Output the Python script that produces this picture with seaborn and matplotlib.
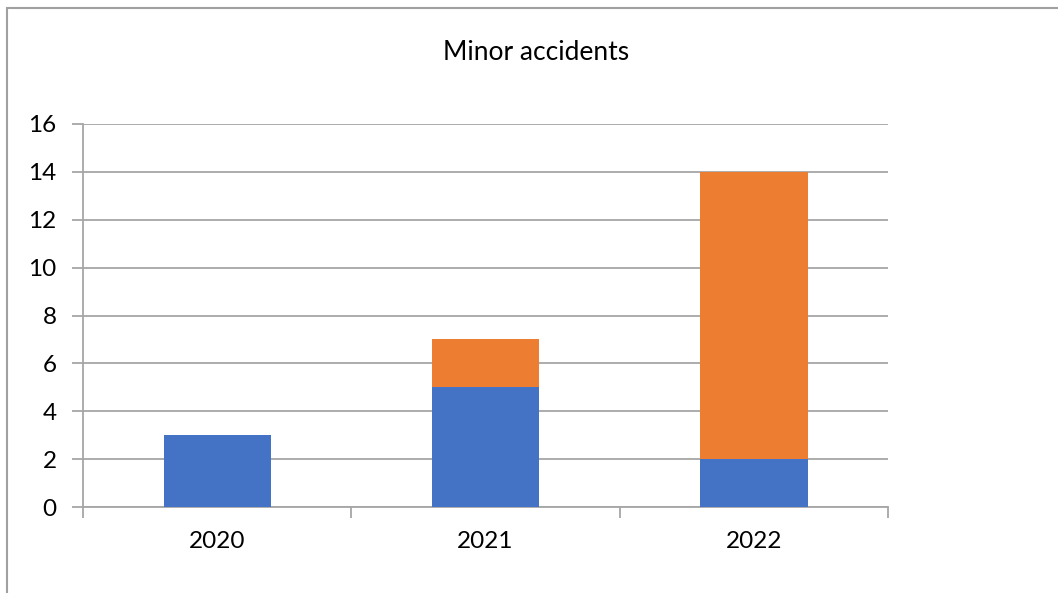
import matplotlib
matplotlib.use("Agg")
import matplotlib.pyplot as plt
import seaborn as sns
import pandas as pd
from matplotlib.patches import Rectangle

years = ["2020", "2021", "2022"]
blue_vals = [3, 5, 2]
orange_vals = [0, 2, 12]
y_ticks = [0, 2, 4, 6, 8, 10, 12, 14, 16]

blue = "#4472C4"
orange = "#ED7D31"
grid_col = "#a6a6a6"

sns.set_theme(style="white")
plt.rcParams['font.family'] = ['Lato', 'DejaVu Sans']

df = pd.DataFrame({'year': years, 'blue': blue_vals, 'orange': orange_vals})
df['total'] = df['blue'] + df['orange']

fig = plt.figure(figsize=(10.58, 5.93), dpi=100)
ax = fig.add_axes([83/1058, 1-507/593, (888-83)/1058, (507-124)/593])

# stacked: draw totals in orange, then blue part on top of it
sns.barplot(data=df, x='year', y='total', color=orange, width=0.4, ax=ax,
            saturation=1, linewidth=0, zorder=3)
sns.barplot(data=df, x='year', y='blue', color=blue, width=0.4, ax=ax,
            saturation=1, linewidth=0, zorder=4)

ax.set_ylim(0, 16)
ax.set_xlim(-0.5, 2.5)
ax.set_yticks(y_ticks)
ax.yaxis.grid(True, color=grid_col, linewidth=1.3, zorder=0)
ax.set_axisbelow(True)
ax.set_xlabel('')
ax.set_ylabel('')

for s in ['top', 'right']:
    ax.spines[s].set_visible(False)
for s in ['left', 'bottom']:
    ax.spines[s].set_color(grid_col)
    ax.spines[s].set_linewidth(1.3)

ax.tick_params(axis='y', which='major', length=8, color=grid_col, width=1.3,
               labelsize=17.5, labelcolor='black', pad=11, left=True)
ax.tick_params(axis='x', which='major', length=0, labelsize=17.5, labelcolor='black', pad=17)
ax.set_xticks([-0.5, 0.5, 1.5, 2.5], minor=True)
ax.tick_params(axis='x', which='minor', length=8, color=grid_col, width=1.3, bottom=True)

fig.text(536/1058, 1-52/593, 'Minor accidents', ha='center', va='center', fontsize=19, color='black')

# chart outer frame
fig.patches.append(Rectangle((7/1058, -0.1), 1.2, 1-8/593+0.1, transform=fig.transFigure,
                             fill=False, edgecolor='#a0a0a0', linewidth=1.5))

fig.savefig('out.png', dpi=100)
